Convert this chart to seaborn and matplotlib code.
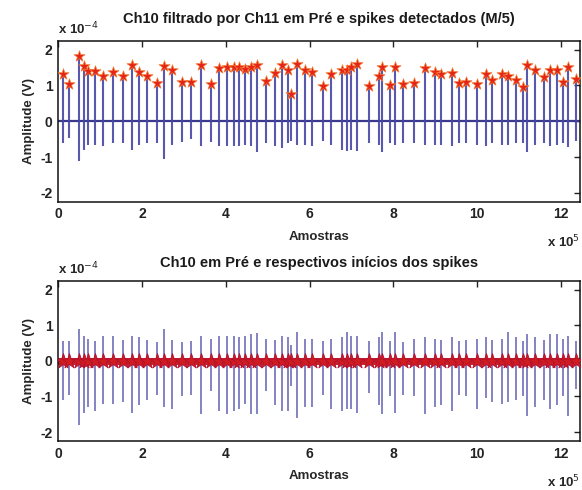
import matplotlib as mpl
import matplotlib.pyplot as plt
import numpy as np
import pandas as pd
import seaborn as sns

mpl.use("Agg")
sns.set_theme()
sns.set_style("white")
plt.rcParams["font.family"] = ["Liberation Sans", "DejaVu Sans"]

# spike positions (x 10^5 amostras)
spike_x = [
    0.13, 0.27, 0.50, 0.63, 0.72, 0.88, 1.08, 1.30, 1.54, 1.77,
    1.93, 2.11, 2.36, 2.53, 2.71, 2.95, 3.18, 3.42, 3.66, 3.84,
    4.03, 4.19, 4.31, 4.45, 4.61, 4.75, 4.95, 5.17, 5.33, 5.48,
    5.55, 5.71, 5.90, 6.06, 6.32, 6.50, 6.78, 6.89, 6.99, 7.13,
    7.41, 7.65, 7.73, 7.92, 8.04, 8.22, 8.50, 8.74, 8.98, 9.14,
    9.39, 9.57, 9.73, 9.98, 10.21, 10.36, 10.58, 10.72, 10.92, 11.08,
    11.18, 11.38, 11.58, 11.74, 11.91, 12.05, 12.17, 12.35,
]

# filtered signal: detected peaks and troughs (x 10^-4 V)
filt_peak = [
    1.32, 1.03, 1.83, 1.54, 1.40, 1.40, 1.26, 1.38, 1.26, 1.56,
    1.38, 1.26, 1.07, 1.54, 1.44, 1.09, 1.09, 1.56, 1.05, 1.49,
    1.52, 1.52, 1.51, 1.46, 1.52, 1.58, 1.12, 1.35, 1.56, 1.44,
    0.77, 1.60, 1.44, 1.37, 0.98, 1.32, 1.44, 1.44, 1.52, 1.60,
    0.98, 1.26, 1.51, 1.01, 1.52, 1.05, 1.07, 1.49, 1.37, 1.31,
    1.35, 1.07, 1.09, 1.03, 1.31, 1.14, 1.31, 1.26, 1.14, 0.96,
    1.56, 1.42, 1.23, 1.44, 1.44, 1.11, 1.52, 1.17,
]
filt_trough = [
    -0.62, -0.48, -1.10, -0.80, -0.67, -0.67, -0.70, -0.62, -0.62, -0.80,
    -0.67, -0.62, -0.62, -1.05, -0.67, -0.57, -0.50, -0.70, -0.57, -0.70,
    -0.70, -0.70, -0.70, -0.67, -0.70, -0.86, -0.62, -0.70, -0.75, -0.62,
    -0.55, -0.67, -0.67, -0.70, -0.55, -0.67, -0.80, -0.82, -0.80, -0.82,
    -0.60, -0.67, -0.85, -0.60, -0.67, -0.60, -0.62, -0.67, -0.65, -0.67,
    -0.70, -0.60, -0.62, -0.67, -0.70, -0.62, -0.67, -0.67, -0.60, -0.62,
    -0.85, -0.67, -0.62, -0.70, -0.67, -0.60, -0.72, -0.55,
]

# raw signal: positive and negative excursions (x 10^-4 V)
raw_peak = [
    0.57, 0.55, 0.90, 0.69, 0.62, 0.55, 0.71, 0.69, 0.59, 0.69,
    0.66, 0.59, 0.52, 0.90, 0.59, 0.52, 0.55, 0.69, 0.62, 0.69,
    0.69, 0.71, 0.66, 0.69, 0.76, 0.78, 0.62, 0.59, 0.69, 0.66,
    0.45, 0.80, 0.62, 0.62, 0.55, 0.62, 0.66, 0.80, 0.69, 0.71,
    0.55, 0.66, 0.80, 0.55, 0.80, 0.52, 0.62, 0.66, 0.62, 0.59,
    0.66, 0.55, 0.59, 0.62, 0.66, 0.59, 0.62, 0.80, 0.66, 0.55,
    0.75, 0.66, 0.59, 0.75, 0.75, 0.62, 0.70, 0.55,
]
raw_trough = [
    -1.10, -0.95, -1.80, -1.45, -1.30, -1.40, -1.20, -1.20, -1.15, -1.45,
    -1.25, -1.10, -0.95, -1.30, -1.35, -1.00, -0.95, -1.50, -0.85, -1.40,
    -1.50, -1.40, -1.35, -1.20, -1.50, -1.50, -0.85, -1.25, -1.40, -1.40,
    -0.70, -1.60, -1.30, -1.30, -0.95, -1.35, -1.40, -1.35, -1.35, -1.45,
    -0.90, -1.25, -1.50, -1.00, -1.45, -0.95, -1.00, -1.50, -1.30, -1.25,
    -1.40, -0.95, -1.00, -1.35, -1.05, -1.15, -1.20, -1.15, -1.10, -1.00,
    -1.55, -1.30, -1.10, -1.35, -1.25, -1.00, -1.55, -0.80,
]

titles = [
    "Ch10 filtrado por Ch11 em Pré e spikes detectados (M/5)",
    "Ch10 em Pré e respectivos inícios dos spikes",
]

df = pd.DataFrame({
    "x": spike_x,
    "filt_peak": filt_peak,
    "filt_trough": filt_trough,
    "raw_peak": raw_peak,
    "raw_trough": raw_trough,
})
df["onset"] = 0.0

fig = plt.figure(figsize=(5.82, 4.90), dpi=100)
ax1 = fig.add_axes([0.0997, 0.588, 0.897, 0.329])
ax2 = fig.add_axes([0.0997, 0.100, 0.897, 0.327])

line_col = "#4646a6"
tick_font = dict(fontsize=10, fontweight="bold")

# top: filtered signal with detected peaks
ax1.axhline(0, color="#3a3a8c", lw=1.6, zorder=2)
ax1.vlines(df["x"], df["filt_trough"], df["filt_peak"], color=line_col, lw=1.5, alpha=0.9, zorder=2)
sns.scatterplot(data=df, x="x", y="filt_peak", ax=ax1, marker="*", s=70,
                color="#e42418", edgecolor="#f47a30", linewidth=0.5, zorder=3)

# bottom: raw signal with spike onsets
ax2.vlines(df["x"], df["raw_trough"], df["raw_peak"], color=line_col, lw=1.1, alpha=0.85, zorder=2)
ax2.axhline(0, color="#c8202a", lw=5.0, zorder=2)
sns.scatterplot(data=df, x="x", y="onset", ax=ax2, marker="*", s=130,
                color="#d01c20", edgecolor="#b01030", linewidth=0.6, zorder=3)

for ax, title, ty, xo in zip([ax1, ax2], titles, [0.962, 0.463], [-0.2, -0.205]):
    ax.set_xlim(0, 12.45)
    ax.set_ylim(-2.25, 2.25)
    ax.set_xticks([0, 2, 4, 6, 8, 10, 12])
    ax.set_yticks([-2, -1, 0, 1, 2])
    ax.set_xticklabels(["0", "2", "4", "6", "8", "10", "12"], **tick_font)
    ax.set_yticklabels(["-2", "-1", "0", "1", "2"], **tick_font)
    ax.tick_params(direction="in", top=True, right=True, length=4, width=1,
                   colors="#222222", pad=4)
    for s in ax.spines.values():
        s.set_color("#111111")
        s.set_linewidth(1.1)
    ax.set_xlabel("Amostras", fontsize=9.5, fontweight="bold", labelpad=7)
    ax.set_ylabel("Amplitude (V)", fontsize=9.5, fontweight="bold", labelpad=4)
    fig.text(0.548, ty, title, ha="center", va="center", fontsize=10.5, fontweight="bold",
             color="#1a1a1a")
    ax.text(0.0, 1.02, r"x 10$^{-4}$", transform=ax.transAxes, ha="left", va="bottom",
            fontsize=9.5, fontweight="bold")
    ax.text(1.0, xo, r"x 10$^{5}$", transform=ax.transAxes, ha="right", va="top",
            fontsize=9.5, fontweight="bold")

plt.savefig("out.png", dpi=100)
plt.clf()
